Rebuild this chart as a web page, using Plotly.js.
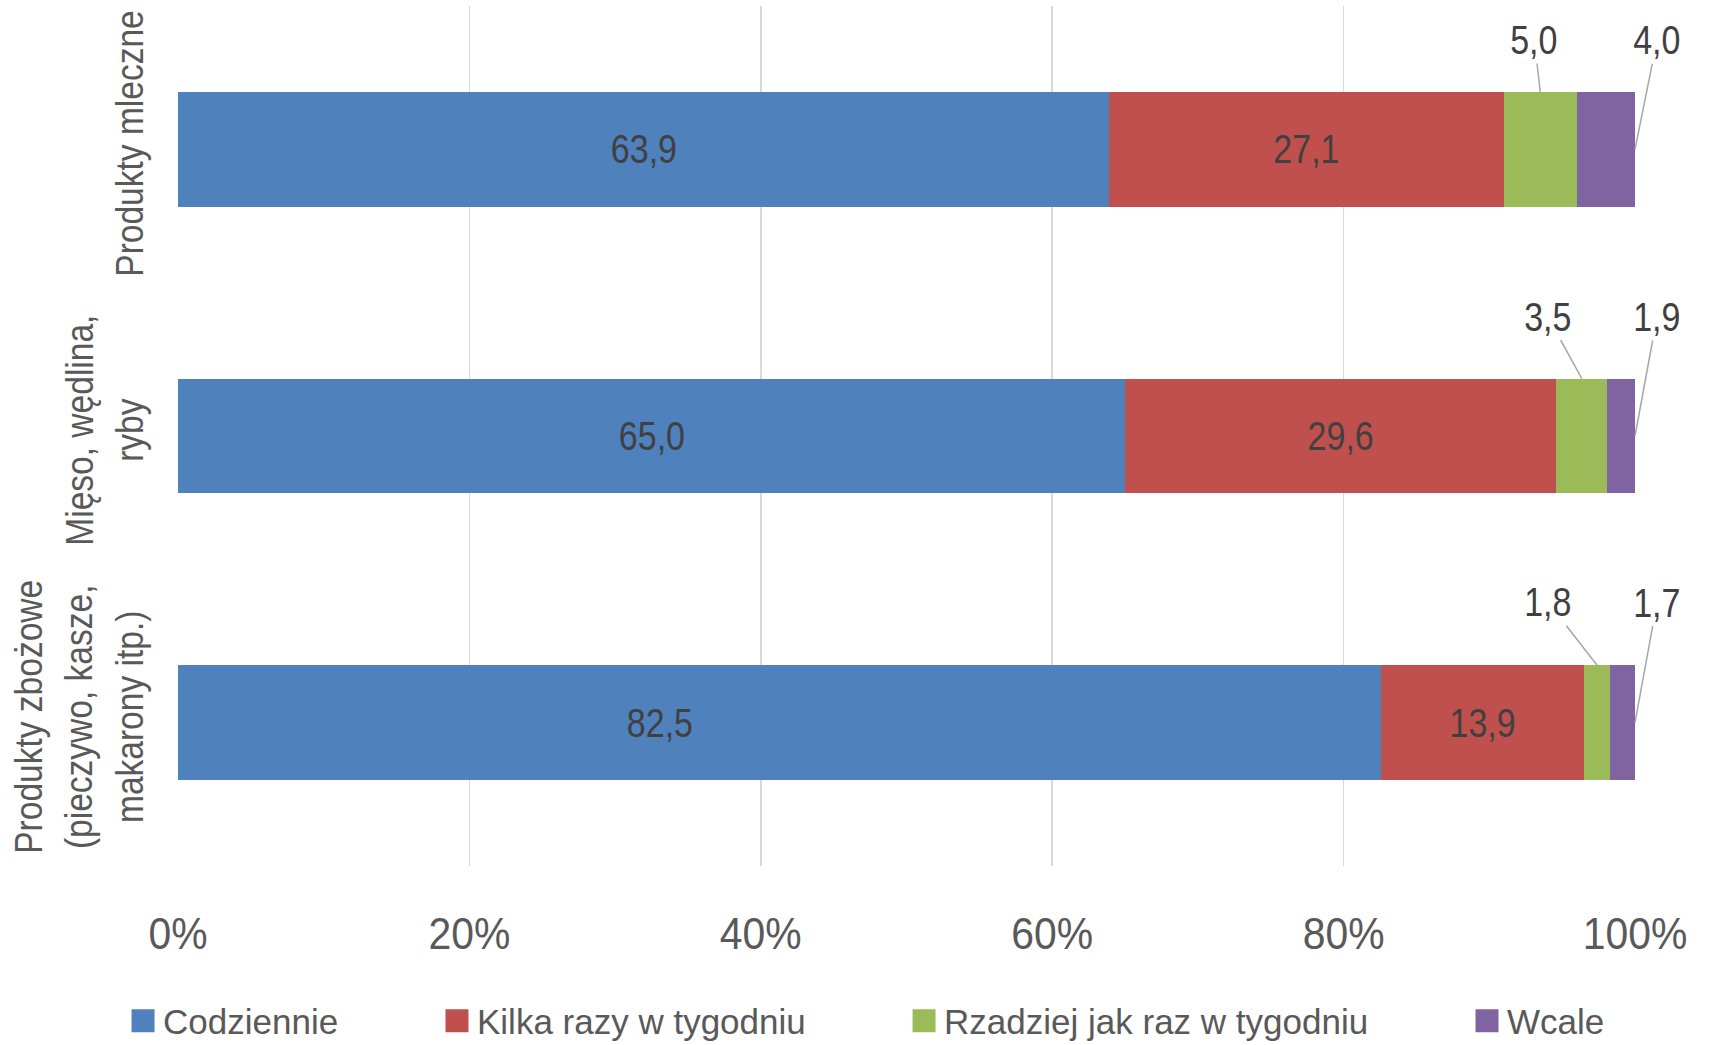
<!DOCTYPE html>
<html>
<head>
<meta charset="utf-8">
<script src="https://cdn.plot.ly/plotly-3.0.1.min.js"></script>
<style>
  html, body { margin: 0; padding: 0; background: #fff; }
  #chart { width: 1709px; height: 1045px; }
</style>
</head>
<body>
<div id="chart"></div>
<script>
// ---- data ----
const categories = [
  'Produkty zbożowe<br>(pieczywo, kasze,<br>makarony itp.)',
  'Mięso, wędlina,<br>ryby',
  'Produkty mleczne'
];
const seriesNames = ['Codziennie', 'Kilka razy w tygodniu', 'Rzadziej jak raz w tygodniu', 'Wcale'];
const codziennie = [82.5, 65.0, 63.9];
const kilkaRazy = [13.9, 29.6, 27.1];
const rzadziej = [1.8, 3.5, 5.0];
const wcale = [1.7, 1.9, 4.0];
const xTicks = [0, 20, 40, 60, 80, 100];
const xTickLabels = ['0%', '20%', '40%', '60%', '80%', '100%'];

// ---- style ----
const FONT = '"Liberation Sans", Arial, sans-serif';
const colors = ['#4f81bd', '#c0504d', '#9bbb59', '#8064a2'];
const fmt = v => v.toFixed(1).replace('.', ',');

const allSeries = [codziennie, kilkaRazy, rzadziej, wcale];
const legendIds = ['legend', 'legend2', 'legend3', 'legend4'];

const traces = allSeries.map((vals, k) => ({
  type: 'bar',
  orientation: 'h',
  name: seriesNames[k],
  y: categories,
  x: vals,
  marker: { color: colors[k], line: { width: 0 } },
  text: k === 1 ? vals.map(fmt) : vals.map(() => ''),
  textposition: k === 1 ? 'inside' : 'none',
  insidetextanchor: 'middle',
  textfont: { family: FONT, size: 40, color: '#404040' },
  hoverinfo: 'skip',
  legend: legendIds[k]
}));

// labels
const totals = categories.map((c, i) => codziennie[i] + kilkaRazy[i] + rzadziej[i] + wcale[i]);
const blueShift = [-120, 0, 0];
const greenOffsets = [[-49, -63], [-34, -62], [-6, -52]];
const purpleOffsets = [[22, -120], [22, -119], [22, -109]];
const labelFont = { family: FONT, size: 40, color: '#404040' };
const annotations = [];
categories.forEach((c, i) => {
  const t = totals[i];
  annotations.push({
    x: (codziennie[i] / 2) / t * 100, y: i, xref: 'x', yref: 'y',
    text: fmt(codziennie[i]), showarrow: false, xshift: blueShift[i],
    font: labelFont
  });
  annotations.push({
    x: (codziennie[i] + kilkaRazy[i] + rzadziej[i] / 2) / t * 100,
    y: i + 0.2,
    xref: 'x', yref: 'y',
    text: fmt(rzadziej[i]),
    showarrow: true, arrowhead: 0, arrowwidth: 1.5, arrowcolor: '#a6a6a6',
    ax: greenOffsets[i][0], ay: greenOffsets[i][1], standoff: 0, startstandoff: 0,
    font: labelFont
  });
  annotations.push({
    x: (codziennie[i] + kilkaRazy[i] + rzadziej[i] + wcale[i]) / t * 100,
    y: i,
    xref: 'x', yref: 'y',
    text: fmt(wcale[i]),
    showarrow: true, arrowhead: 0, arrowwidth: 1.5, arrowcolor: '#a6a6a6',
    ax: purpleOffsets[i][0], ay: purpleOffsets[i][1], standoff: 0, startstandoff: 0,
    font: labelFont
  });
});

const legendX = [0.072, 0.2557, 0.529, 0.8584];
const layout = {
  width: 1709, height: 1045,
  margin: { l: 178, r: 74, t: 6, b: 179, autoexpand: false },
  paper_bgcolor: '#ffffff', plot_bgcolor: '#ffffff',
  barmode: 'stack', barnorm: 'percent', bargap: 0.6,
  font: { family: FONT, color: '#595959' },
  xaxis: {
    range: [0, 100], tickvals: xTicks, ticktext: xTickLabels,
    showgrid: true, gridcolor: '#d9d9d9', gridwidth: 1.5,
    zeroline: false, showline: false, ticks: '',
    ticklabelstandoff: 38, automargin: false,
    tickfont: { family: FONT, size: 44, color: '#595959' },
    fixedrange: true
  },
  yaxis: {
    type: 'category', categoryorder: 'array', categoryarray: categories,
    showgrid: false, zeroline: false, showline: false, ticks: '',
    tickangle: -90, ticklabelstandoff: 26, automargin: false,
    tickfont: { family: FONT, size: 39, color: '#595959' },
    fixedrange: true
  },
  annotations: annotations,
  showlegend: true
};
legendIds.forEach((id, k) => {
  layout[id] = {
    orientation: 'h', xref: 'container', yref: 'container',
    x: legendX[k], xanchor: 'left', y: 0.023, yanchor: 'middle',
    font: { family: FONT, size: 35, color: '#595959' },
    bgcolor: 'rgba(0,0,0,0)', borderwidth: 0, itemclick: false, itemdoubleclick: false
  };
});

function condense(selector, s) {
  document.querySelectorAll(selector).forEach(el => {
    const x = parseFloat(el.getAttribute('x')) || 0;
    const t = el.getAttribute('transform') || '';
    el.setAttribute('transform', t + ' translate(' + x + ',0) scale(' + s + ',1) translate(' + (-x) + ',0)');
  });
}

Plotly.newPlot('chart', traces, layout, { displayModeBar: false, staticPlot: true }).then(() => {
  condense('#chart .xtick text', 0.93);
  condense('#chart .ytick text', 0.86);
  condense('#chart text.bartext', 0.85);
  condense('#chart .annotation-text', 0.85);
  document.querySelectorAll('#chart .legendpoints path').forEach(p => {
    p.setAttribute('d', 'M11.5,11.5H-11.5V-11.5H11.5Z');
  });
});
</script>
</body>
</html>
